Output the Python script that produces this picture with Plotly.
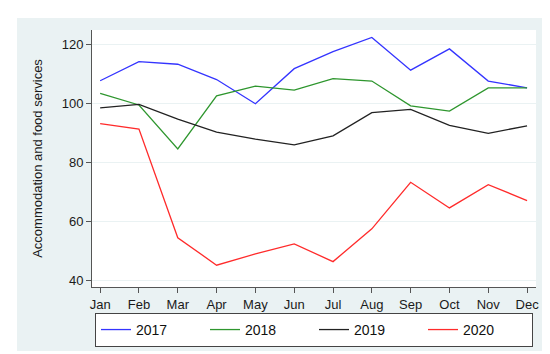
import plotly.graph_objects as go

months = ["Jan", "Feb", "Mar", "Apr", "May", "Jun", "Jul", "Aug", "Sep", "Oct", "Nov", "Dec"]
month_pos = list(range(1, 13))
y2017 = [107.8, 114.3, 113.4, 108.2, 100.0, 111.9, 117.7, 122.5, 111.4, 118.6, 107.7, 105.4]
y2018 = [103.5, 99.6, 84.7, 102.7, 106.0, 104.6, 108.5, 107.7, 99.3, 97.5, 105.4, 105.4]
y2019 = [98.6, 99.8, 94.8, 90.4, 88.0, 86.1, 89.1, 97.0, 98.1, 92.7, 90.0, 92.5]
y2020 = [93.3, 91.4, 54.6, 45.3, 49.1, 52.5, 46.5, 57.6, 73.4, 64.7, 72.6, 67.2]
series = [("2017", y2017, "#3434FF"), ("2018", y2018, "#2E962E"),
          ("2019", y2019, "#222222"), ("2020", y2020, "#FF2B2B")]
y_ticks = [40, 60, 80, 100, 120]

fig = go.Figure()
for name, vals, col in series:
    fig.add_trace(go.Scatter(x=month_pos, y=vals, name=name, mode="lines",
                             line=dict(color=col, width=1.3)))

bg = "#EAF2F3"
fig.add_shape(type="rect", xref="paper", yref="paper", layer="below",
              x0=(9 - 84) / 444, x1=(540 - 84) / 444,
              y0=(279 - 343) / 257, y1=(279 - 10) / 257,
              fillcolor=bg, line_width=0)
fig.add_shape(type="rect", xref="paper", yref="paper", layer="below",
              x0=0, x1=1, y0=0, y1=1, fillcolor="white", line_width=0)

fig.update_layout(
    width=550, height=354,
    margin=dict(l=84, r=22, t=22, b=75, autoexpand=False),
    paper_bgcolor="white", plot_bgcolor="white",
    font=dict(family="Liberation Sans, Arial, sans-serif", color="#1a1a1a", size=13),
    showlegend=True,
    legend=dict(orientation="h", x=0.5, xanchor="center", y=-0.101, yanchor="top",
                bordercolor="#444444", borderwidth=1, bgcolor="white",
                font=dict(size=14, color="#111111"),
                entrywidth=64, entrywidthmode="pixels",
                tracegroupgap=0),
)
fig.update_xaxes(range=[0.79, 12.23], tickmode="array", tickvals=month_pos, ticktext=months,
                 showgrid=False, zeroline=False, showline=True, linecolor="#555555", linewidth=1,
                 ticks="outside", ticklen=5, tickcolor="#555555", tickfont=dict(size=13),
                 automargin=False)
fig.update_yaxes(range=[37.9, 125.0], tickmode="array", tickvals=y_ticks,
                 showgrid=True, gridcolor=bg, gridwidth=1, zeroline=False,
                 showline=True, linecolor="#555555", linewidth=1,
                 ticks="outside", ticklen=5, tickcolor="#555555", tickfont=dict(size=13),
                 automargin=False,
                 title=dict(text="Accommodation and food services", font=dict(size=13), standoff=16))

fig.write_html("out.html")
